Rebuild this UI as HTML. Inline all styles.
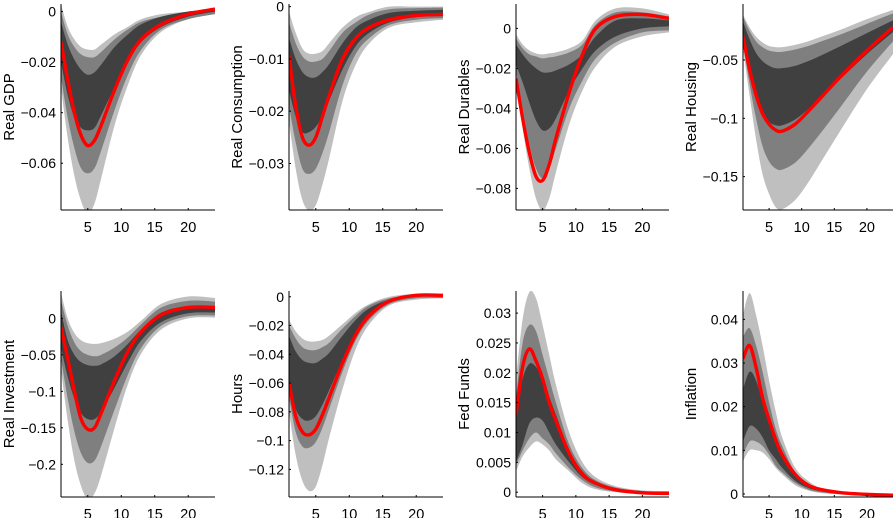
<!DOCTYPE html>
<html><head><meta charset="utf-8"><style>
html,body{margin:0;padding:0;background:#fff;width:894px;height:518px;overflow:hidden}
svg{display:block;font-family:"Liberation Sans",sans-serif}
</style></head><body>
<svg id="fig" width="894" height="518"></svg>
<script>
const horizons=[1,2,3,4,5,6,7,9,11,13,16,20,24];
const xTicks=[5,10,15,20];
const titles=["Real GDP","Real Consumption","Real Durables","Real Housing","Real Investment","Hours","Fed Funds","Inflation"];
const yTicks=[[0,-0.02,-0.04,-0.06],[0,-0.01,-0.02,-0.03],[0,-0.02,-0.04,-0.06,-0.08],[-0.05,-0.1,-0.15],[0,-0.05,-0.1,-0.15,-0.2],[0,-0.02,-0.04,-0.06,-0.08,-0.1,-0.12],[0,0.005,0.01,0.015,0.02,0.025,0.03],[0,0.01,0.02,0.03,0.04]];
const yTickLabels=[["0","−0.02","−0.04","−0.06"],["0","−0.01","−0.02","−0.03"],["0","−0.02","−0.04","−0.06","−0.08"],["−0.05","−0.1","−0.15"],["0","−0.05","−0.1","−0.15","−0.2"],["0","−0.02","−0.04","−0.06","−0.08","−0.1","−0.12"],["0","0.005","0.01","0.015","0.02","0.025","0.03"],["0","0.01","0.02","0.03","0.04"]];
const yRanges=[[-0.0785,0.003],[-0.0389,0.0005],[-0.0908,0.0122],[-0.1786,-0.002],[-0.2448,0.0375],[-0.1392,0.004],[-0.0008,0.0337],[-0.0007,0.0465]];
const red=[
[-0.012,-0.027,-0.040,-0.049,-0.053,-0.051,-0.045,-0.031,-0.019,-0.011,-0.005,-0.001,0.001],
[-0.0095,-0.019,-0.025,-0.0265,-0.025,-0.021,-0.017,-0.010,-0.006,-0.004,-0.0025,-0.0017,-0.0015],
[-0.025,-0.045,-0.062,-0.074,-0.076,-0.068,-0.055,-0.032,-0.013,0.000,0.006,0.007,0.005],
[-0.030,-0.058,-0.080,-0.096,-0.105,-0.110,-0.111,-0.105,-0.094,-0.082,-0.064,-0.042,-0.022],
[-0.012,-0.055,-0.100,-0.138,-0.152,-0.150,-0.130,-0.085,-0.045,-0.018,0.005,0.015,0.015],
[-0.060,-0.083,-0.094,-0.096,-0.092,-0.082,-0.070,-0.046,-0.026,-0.013,-0.003,0.001,0.001],
[0.013,0.021,0.024,0.022,0.019,0.015,0.012,0.0065,0.003,0.0015,0.0004,-0.0001,-0.0002],
[0.031,0.034,0.029,0.022,0.017,0.0125,0.009,0.0045,0.002,0.001,0.0003,-0.0001,-0.0003]];
const hi3=[
[0.003,-0.006,-0.011,-0.014,-0.015,-0.015,-0.013,-0.009,-0.006,-0.003,-0.001,0.000,0.001],
[-0.001,-0.005,-0.008,-0.009,-0.009,-0.0085,-0.007,-0.004,-0.002,-0.001,0.0,0.0,0.0],
[-0.003,-0.008,-0.011,-0.0125,-0.013,-0.0125,-0.012,-0.010,-0.006,0.004,0.010,0.010,0.007],
[-0.011,-0.022,-0.030,-0.035,-0.038,-0.039,-0.039,-0.037,-0.034,-0.030,-0.024,-0.015,-0.007],
[0.035,0.000,-0.020,-0.030,-0.034,-0.035,-0.034,-0.028,-0.018,-0.003,0.020,0.030,0.028],
[-0.016,-0.024,-0.029,-0.031,-0.031,-0.030,-0.027,-0.019,-0.011,-0.005,0.000,0.002,0.002],
[0.019,0.029,0.0335,0.0325,0.028,0.023,0.018,0.010,0.005,0.0025,0.001,0.0003,0.0002],
[0.041,0.046,0.041,0.034,0.026,0.019,0.013,0.006,0.003,0.0013,0.0005,0.0001,0.0]];
const hi2=[
[0.000,-0.009,-0.014,-0.017,-0.018,-0.018,-0.016,-0.011,-0.007,-0.004,-0.002,0.000,0.001],
[-0.003,-0.007,-0.0095,-0.0105,-0.0105,-0.010,-0.0085,-0.005,-0.003,-0.0015,-0.0005,-0.0003,-0.0002],
[-0.005,-0.010,-0.013,-0.014,-0.015,-0.0145,-0.014,-0.012,-0.008,0.002,0.008,0.008,0.006],
[-0.013,-0.025,-0.034,-0.039,-0.042,-0.043,-0.043,-0.041,-0.038,-0.034,-0.028,-0.019,-0.010],
[0.025,-0.010,-0.033,-0.045,-0.050,-0.052,-0.050,-0.040,-0.026,-0.008,0.015,0.024,0.023],
[-0.020,-0.029,-0.035,-0.037,-0.037,-0.035,-0.032,-0.022,-0.013,-0.006,-0.001,0.0015,0.0015],
[0.016,0.025,0.028,0.027,0.023,0.019,0.015,0.008,0.004,0.002,0.0008,0.0002,0.0001],
[0.036,0.038,0.034,0.028,0.021,0.015,0.011,0.005,0.0025,0.0011,0.0004,0.0,-0.0001]];
const hi1=[
[-0.004,-0.013,-0.019,-0.023,-0.025,-0.024,-0.021,-0.014,-0.009,-0.005,-0.002,0.000,0.001],
[-0.006,-0.010,-0.0125,-0.0135,-0.0135,-0.0125,-0.011,-0.007,-0.004,-0.0025,-0.0012,-0.0008,-0.0006],
[-0.008,-0.013,-0.017,-0.020,-0.022,-0.022,-0.021,-0.018,-0.013,-0.004,0.004,0.005,0.004],
[-0.017,-0.032,-0.044,-0.051,-0.055,-0.057,-0.057,-0.055,-0.051,-0.046,-0.038,-0.027,-0.016],
[0.010,-0.030,-0.050,-0.060,-0.064,-0.065,-0.063,-0.052,-0.035,-0.015,0.008,0.017,0.016],
[-0.027,-0.038,-0.044,-0.046,-0.046,-0.043,-0.039,-0.027,-0.016,-0.008,-0.002,0.001,0.001],
[0.013,0.019,0.0215,0.021,0.019,0.016,0.013,0.007,0.0035,0.0017,0.0006,0.0001,0.0],
[0.024,0.028,0.026,0.021,0.016,0.012,0.009,0.0042,0.002,0.0009,0.0003,0.0,-0.0001]];
const lo1=[
[-0.020,-0.033,-0.042,-0.046,-0.047,-0.046,-0.041,-0.030,-0.020,-0.012,-0.006,-0.002,0.000],
[-0.016,-0.021,-0.024,-0.024,-0.023,-0.021,-0.018,-0.012,-0.0075,-0.005,-0.003,-0.002,-0.0018],
[-0.018,-0.027,-0.037,-0.046,-0.051,-0.050,-0.045,-0.031,-0.020,-0.011,-0.004,0.000,0.001],
[-0.032,-0.057,-0.078,-0.094,-0.103,-0.106,-0.106,-0.101,-0.092,-0.082,-0.066,-0.045,-0.026],
[-0.040,-0.080,-0.110,-0.130,-0.138,-0.138,-0.128,-0.095,-0.060,-0.030,-0.005,0.007,0.008],
[-0.060,-0.078,-0.085,-0.086,-0.083,-0.075,-0.065,-0.044,-0.025,-0.013,-0.004,0.000,0.000],
[0.005,0.008,0.0115,0.0125,0.012,0.010,0.008,0.005,0.0025,0.0012,0.0003,-0.0001,-0.0002],
[0.012,0.0155,0.015,0.013,0.010,0.008,0.006,0.003,0.0014,0.0006,0.0001,-0.0002,-0.0003]];
const lo2=[
[-0.026,-0.042,-0.054,-0.062,-0.064,-0.062,-0.055,-0.039,-0.025,-0.015,-0.007,-0.003,-0.001],
[-0.019,-0.026,-0.031,-0.032,-0.031,-0.028,-0.024,-0.015,-0.009,-0.006,-0.0035,-0.0025,-0.0022],
[-0.022,-0.040,-0.058,-0.070,-0.075,-0.070,-0.060,-0.040,-0.026,-0.015,-0.007,-0.002,-0.001],
[-0.036,-0.070,-0.100,-0.124,-0.137,-0.143,-0.144,-0.138,-0.126,-0.112,-0.090,-0.060,-0.034],
[-0.055,-0.110,-0.155,-0.185,-0.198,-0.195,-0.175,-0.125,-0.077,-0.040,-0.010,0.003,0.004],
[-0.070,-0.094,-0.104,-0.105,-0.101,-0.091,-0.078,-0.052,-0.030,-0.016,-0.005,-0.001,-0.001],
[0.0045,0.007,0.009,0.010,0.009,0.008,0.0065,0.004,0.002,0.0008,0.0001,-0.0002,-0.0003],
[0.009,0.012,0.012,0.011,0.009,0.0065,0.005,0.0025,0.001,0.0004,0.0,-0.0003,-0.0004]];
const lo3=[
[-0.030,-0.050,-0.065,-0.075,-0.080,-0.076,-0.066,-0.045,-0.029,-0.017,-0.008,-0.003,-0.001],
[-0.022,-0.031,-0.037,-0.039,-0.038,-0.034,-0.029,-0.018,-0.011,-0.007,-0.004,-0.003,-0.0025],
[-0.026,-0.050,-0.070,-0.085,-0.091,-0.085,-0.072,-0.048,-0.031,-0.019,-0.009,-0.004,-0.002],
[-0.040,-0.080,-0.118,-0.148,-0.165,-0.176,-0.178,-0.170,-0.155,-0.137,-0.110,-0.075,-0.045],
[-0.070,-0.140,-0.195,-0.230,-0.248,-0.240,-0.215,-0.150,-0.090,-0.048,-0.015,0.000,0.001],
[-0.080,-0.110,-0.128,-0.135,-0.132,-0.117,-0.098,-0.064,-0.036,-0.019,-0.006,-0.002,-0.001],
[0.0035,0.006,0.0075,0.0085,0.008,0.007,0.0055,0.0035,0.0015,0.0005,0.0,-0.0003,-0.0004],
[0.0075,0.010,0.010,0.0095,0.008,0.006,0.0045,0.002,0.0008,0.0002,-0.0001,-0.0004,-0.0005]];

const NS="http://www.w3.org/2000/svg";
const svg=document.getElementById('fig');
const lefts=[61,289,516,743], rights=[215,443,669,893];
const tops=[4,291], bottoms=[210,497];
function mk(tag,attrs,parent){const e=document.createElementNS(NS,tag);for(const k in attrs)e.setAttribute(k,attrs[k]);parent.appendChild(e);return e;}
function smooth(pts){
  let d="M"+pts[0][0].toFixed(2)+","+pts[0][1].toFixed(2);
  for(let i=0;i<pts.length-1;i++){
    const p0=pts[Math.max(0,i-1)],p1=pts[i],p2=pts[i+1],p3=pts[Math.min(pts.length-1,i+2)];
    const c1=[p1[0]+(p2[0]-p0[0])/6,p1[1]+(p2[1]-p0[1])/6];
    const c2=[p2[0]-(p3[0]-p1[0])/6,p2[1]-(p3[1]-p1[1])/6];
    d+="C"+c1[0].toFixed(2)+","+c1[1].toFixed(2)+" "+c2[0].toFixed(2)+","+c2[1].toFixed(2)+" "+p2[0].toFixed(2)+","+p2[1].toFixed(2);
  }
  return d;
}
const defs=mk('defs',{},svg);
for(let p=0;p<8;p++){
  const L=lefts[p%4],R=rights[p%4],T=tops[Math.floor(p/4)],B=bottoms[Math.floor(p/4)];
  const [ymin,ymax]=yRanges[p];
  const xs=h=>L+(h-1)*(R-L)/23;
  const ys=v=>B-(v-ymin)*(B-T)/(ymax-ymin);
  const g=mk('g',{},svg);
  
  
  const cp=mk('clipPath',{id:'c'+p},defs);
  mk('rect',{x:L,y:T,width:R-L,height:B-T},cp);
  const plot=mk('g',{'clip-path':'url(#c'+p+')'},g);
  const bands=[[hi3,lo3,'#bfbfbf','band-90'],[hi2,lo2,'#7f7f7f','band-80'],[hi1,lo1,'#404040','band-68']];
  bands.forEach(([hi,lo,col,nm])=>{
    const up=horizons.map((h,i)=>[xs(h),ys(hi[p][i])]);
    const dn=horizons.map((h,i)=>[xs(h),ys(lo[p][i])]).reverse();
    const d=smooth(up)+"L"+smooth(dn).slice(1)+"Z";
    const e=mk('path',{d:d,fill:col,stroke:'none'},plot);
    
    
  });
  const rl=mk('path',{d:smooth(horizons.map((h,i)=>[xs(h),ys(red[p][i])])),fill:'none',stroke:'#ff0000','stroke-width':3.4,'stroke-linejoin':'round'},plot);
  
  
  mk('line',{x1:L,y1:T,x2:L,y2:B,stroke:'#000','stroke-width':1},g);
  mk('line',{x1:L,y1:B,x2:R,y2:B,stroke:'#000','stroke-width':1},g);
  xTicks.forEach(t=>{
    mk('line',{x1:xs(t),y1:B,x2:xs(t),y2:B-2,stroke:'#000'},g);
    const tx=mk('text',{x:xs(t),y:B+22,'font-size':14.5,'text-anchor':'middle',fill:'#000'},g);
    tx.textContent=t;
    
    
  });
  yTicks[p].forEach((t,i)=>{
    const y=ys(t);
    mk('line',{x1:L,y1:y,x2:L+2,y2:y,stroke:'#000'},g);
    const tx=mk('text',{x:L-5,y:y+5,'font-size':14,'text-anchor':'end',fill:'#000'},g);
    tx.textContent=yTickLabels[p][i];
    
    
  });
  const cy=(T+B)/2, cx=L-47;
  const tt=mk('text',{x:cx,y:cy,'font-size':15,'text-anchor':'middle',transform:'rotate(-90 '+cx+' '+cy+')',fill:'#000'},g);
  tt.textContent=titles[p];
  
  
}
</script>
</body></html>
